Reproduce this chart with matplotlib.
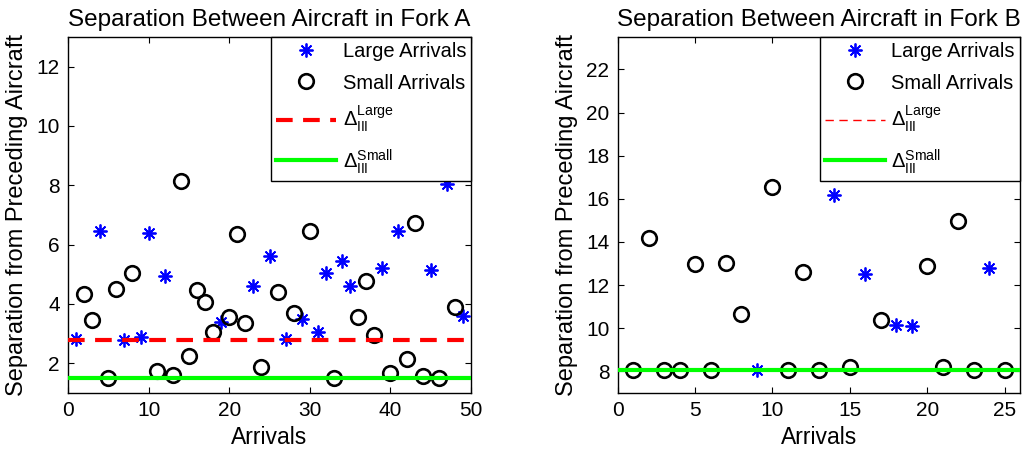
import matplotlib
matplotlib.use("Agg")
import matplotlib.pyplot as plt

plt.rcParams['font.family'] = ['Liberation Sans', 'DejaVu Sans']
plt.rcParams['mathtext.fontset'] = 'custom'
plt.rcParams['mathtext.rm'] = 'Liberation Sans'
plt.rcParams['mathtext.it'] = 'Liberation Sans:italic'
plt.rcParams['mathtext.bf'] = 'Liberation Sans:bold'

# ---- Fork A data ----
a_large_x = [1, 4, 7, 9, 10, 12, 19, 23, 25, 27, 29, 31, 32, 34, 35, 39, 41, 45, 47, 49]
a_large_y = [2.81, 6.46, 2.8, 2.88, 6.39, 4.94, 3.40, 4.62, 5.61, 2.82, 3.48, 3.05, 5.06,
             5.45, 4.61, 5.21, 6.47, 5.14, 8.05, 3.60]
a_small_x = [2, 3, 5, 6, 8, 11, 13, 14, 15, 16, 17, 18, 20, 21, 22, 24, 26, 28, 30, 33,
             36, 37, 38, 40, 42, 43, 44, 46, 48]
a_small_y = [4.34, 3.45, 1.49, 4.52, 5.03, 1.75, 1.62, 8.16, 2.25, 4.48, 4.08, 3.07, 3.55,
             6.37, 3.37, 1.86, 4.41, 3.71, 6.47, 1.51, 3.55, 4.79, 2.95, 1.66, 2.13, 6.72,
             1.57, 1.49, 3.89]
a_delta_large = 2.8
a_delta_small = 1.5

# ---- Fork B data ----
b_large_x = [9, 14, 16, 18, 19, 24]
b_large_y = [8.05, 16.19, 12.53, 10.17, 10.11, 12.78]
b_small_x = [1, 2, 3, 4, 5, 6, 7, 8, 10, 11, 12, 13, 15, 17, 20, 21, 22, 23, 25]
b_small_y = [8.05, 14.17, 8.05, 8.05, 12.99, 8.05, 13.04, 10.68, 16.56, 8.05, 12.59, 8.05,
             8.19, 10.36, 12.88, 8.19, 14.98, 8.05, 8.05]
b_delta_large = 8.05
b_delta_small = 8.05

titles = ["Separation Between Aircraft in Fork A", "Separation Between Aircraft in Fork B"]
xlabel = "Arrivals"
ylabel = "Separation from Preceding Aircraft"
lbl_large = "Large Arrivals"
lbl_small = "Small Arrivals"
lbl_dl = r'$\Delta_{\mathrm{III}}^{\mathrm{Large}}$'
lbl_ds = r'$\Delta_{\mathrm{III}}^{\mathrm{Small}}$'

fig = plt.figure(figsize=(10.24, 4.5), dpi=100)
axA = fig.add_axes([0.0664, 0.1267, 0.3936, 0.7911])
axB = fig.add_axes([0.6032, 0.1267, 0.3929, 0.7911])

star = (8, 2, 0)

def draw(ax, lx, ly, sx, sy, dl, ds, xlim, ylim, xticks, yticks, title, red_lw):
    ax.plot(lx, ly, linestyle='none', marker=star, markersize=10, markeredgewidth=1.3,
            color='#0000ff', label=lbl_large, zorder=3)
    ax.plot(sx, sy, linestyle='none', marker='o', markersize=10.5, markeredgewidth=1.9,
            markerfacecolor='none', markeredgecolor='black', label=lbl_small, zorder=3)
    ax.axhline(dl, color='#ff0000', linestyle=(0, (4, 2.5)) if red_lw > 1.5 else (0, (6, 4)),
               linewidth=red_lw, label=lbl_dl, zorder=4)
    ax.axhline(ds, color='#00ff00', linestyle='-', linewidth=3, label=lbl_ds, zorder=5)
    ax.set_xlim(*xlim)
    ax.set_ylim(*ylim)
    ax.set_xticks(xticks)
    ax.set_yticks(yticks)
    ax.tick_params(direction='in', top=True, right=True, labelsize=15, length=4, pad=6)
    ax.set_title(title, fontsize=17.5, pad=8)
    ax.set_xlabel(xlabel, fontsize=16.5, labelpad=4)
    ax.set_ylabel(ylabel, fontsize=17, labelpad=6)
    for s in ax.spines.values():
        s.set_linewidth(1.0)
    leg = ax.legend(loc='upper right', borderaxespad=0, fancybox=False, framealpha=1,
                    edgecolor='black', fontsize=14.5, handlelength=3.0, labelspacing=0.62,
                    borderpad=0.25, handletextpad=0.3)
    leg.get_frame().set_linewidth(1.0)

draw(axA, a_large_x, a_large_y, a_small_x, a_small_y, a_delta_large, a_delta_small,
     (0, 50), (1, 13), [0, 10, 20, 30, 40, 50], [2, 4, 6, 8, 10, 12], titles[0], 3)
draw(axB, b_large_x, b_large_y, b_small_x, b_small_y, b_delta_large, b_delta_small,
     (0, 26), (7, 23.5), [0, 5, 10, 15, 20, 25], [8, 10, 12, 14, 16, 18, 20, 22], titles[1], 1)

fig.savefig("out.png", dpi=100)
